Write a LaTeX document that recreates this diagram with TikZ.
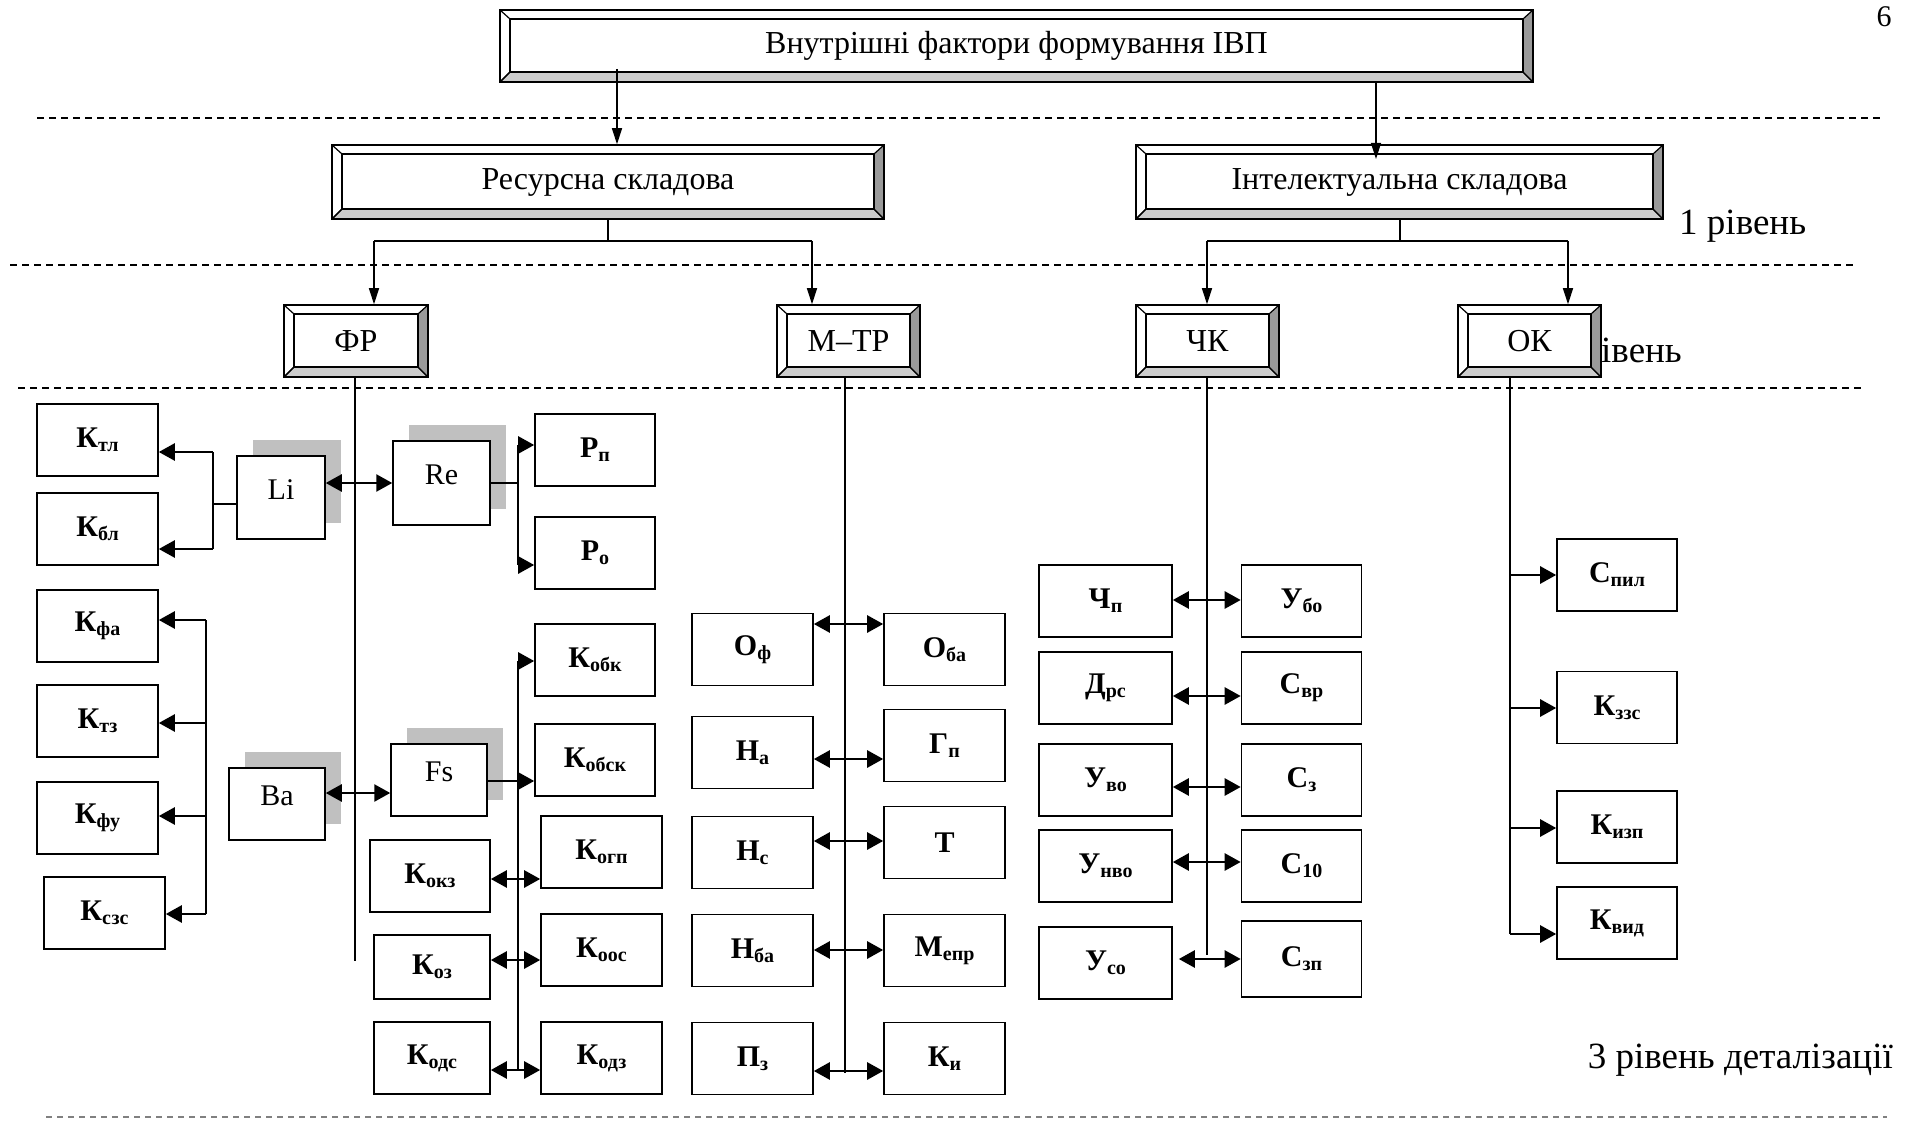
\documentclass[tikz,border=0pt]{standalone}
\usepackage{fontspec}
\setmainfont{Liberation Serif}
\usetikzlibrary{shapes,arrows.meta,shadows}

\definecolor{bevellow}{HTML}{CCCCCC}
\definecolor{bevelside}{HTML}{9A9A9A}
\definecolor{shadegray}{HTML}{C0C0C0}
\definecolor{sepgray}{HTML}{808080}

\newcommand{\lw}[1]{\raisebox{-4pt}{\fontsize{20}{20}\selectfont #1}}

\tikzstyle{bevel} = [rectangle, draw, line width=1.5pt, fill=white, inner sep=0pt, minimum height=72pt,
    font=\fontsize{32}{36}\selectfont,
    path picture={
      \coordinate (bsw) at (path picture bounding box.south west);
      \coordinate (bse) at (path picture bounding box.south east);
      \coordinate (bne) at (path picture bounding box.north east);
      \coordinate (bnw) at (path picture bounding box.north west);
      \filldraw[line width=1.2pt, fill=bevellow] (bsw) -- (bse) -- ([shift={(-10pt,10pt)}]bse) -- ([shift={(10pt,10pt)}]bsw) -- cycle;
      \filldraw[line width=1.2pt, fill=bevelside] (bse) -- (bne) -- ([shift={(-10pt,-9pt)}]bne) -- ([shift={(-10pt,10pt)}]bse) -- cycle;
      \draw[line width=1.2pt] ([shift={(10pt,10pt)}]bsw) rectangle ([shift={(-10pt,-9pt)}]bne);
      \draw[line width=1.2pt] (bnw) -- ([shift={(10pt,-9pt)}]bnw);
      \draw[line width=1.2pt] (bsw) -- ([shift={(10pt,10pt)}]bsw);
    }]
\tikzstyle{item} = [rectangle, draw, line width=1.6pt, fill=white, inner sep=0pt,
    minimum width=121pt, minimum height=72pt, font=\fontsize{30}{34}\selectfont\bfseries]
\tikzstyle{shaded} = [rectangle, draw, line width=1.5pt, fill=white, inner sep=0pt, text depth=16pt,
    minimum width=96pt, minimum height=72pt, font=\fontsize{30}{34}\selectfont,
    general shadow={fill=shadegray, shadow xshift=16pt, shadow yshift=16pt}]
\tikzstyle{line} = [draw, line width=1.3pt, -{Triangle[length=16pt,width=10pt]}]
\tikzstyle{link} = [draw, line width=2.6pt, -{Triangle[length=16pt,width=17pt]}]
\tikzstyle{dlink} = [draw, line width=2.6pt, {Triangle[length=16pt,width=17pt]}-{Triangle[length=16pt,width=17pt]}]
\tikzstyle{bus} = [draw, line width=1.6pt]
\tikzstyle{level} = [font=\fontsize{37}{40}\selectfont, inner sep=0pt]
\tikzstyle{separator} = [draw, line width=1.6pt, dash pattern=on 7pt off 5pt]

\begin{document}
\begin{tikzpicture}[x=1pt, y=-1pt]
\useasboundingbox (0,0) rectangle (1915,1123);

% levels
\path [separator] (37,118) -- (1881,118);
\path [separator] (10,265) -- (1854,265);
\path [separator] (18,388) -- (1862,388);
\path [separator, sepgray, line width=1.2pt, dash pattern=on 6pt off 5pt] (46,1117) -- (1887,1117);

\node [level, anchor=west] (lvl1) at (1679,226) {1 рівень};
\node [level, anchor=east] (lvl2) at (1682,354) {2 рівень};
\node [level, anchor=east] (lvl3) at (1893,1060) {3 рівень деталізації};
\node [font=\fontsize{30}{32}\selectfont, inner sep=0pt] (page) at (1884,17) {6};

% top
\node [bevel, minimum width=1033pt] (ivp) at (1016.5,46) {Внутрішні фактори формування ІВП};
\node [bevel, minimum width=552pt, minimum height=74pt] (res) at (608,182) {Ресурсна складова};
\node [bevel, minimum width=527pt, minimum height=74pt] (int) at (1399.5,182) {Інтелектуальна складова};

\node [bevel, minimum width=144pt] (fr) at (356,341) {ФР};
\node [bevel, minimum width=143pt] (mtr) at (848.5,341) {М–ТР};
\node [bevel, minimum width=143pt] (chk) at (1207.5,341) {ЧК};
\node [bevel, minimum width=143pt] (ok) at (1529.5,341) {ОК};

% ФР
\node [item] (ktl) at (97.5,440) {К\lw{тл}};
\node [item, below of=ktl, node distance=89pt] (kbl) {К\lw{бл}};
\node [item, below of=kbl, node distance=97pt] (kfa) {К\lw{фа}};
\node [item, below of=kfa, node distance=95pt] (ktz) {К\lw{тз}};
\node [item, below of=ktz, node distance=97pt] (kfu) {К\lw{фу}};
\node [item] (kszs) at (104.5,913) {К\lw{сзс}};

\node [shaded, minimum width=88pt, minimum height=83pt] (li) at (281,497.5) {Li};
\node [shaded, minimum width=97pt, minimum height=84pt] (re) at (441.5,483) {Re};
\node [shaded] (ba) at (277,804) {Ba};
\node [shaded] (fs) at (439,780) {Fs};

\node [item, minimum width=120pt] (rp) at (595,450) {Р\lw{п}};
\node [item, minimum width=120pt, below of=rp, node distance=103pt] (ro) {Р\lw{о}};
\node [item, minimum width=120pt] (kobk) at (595,660) {К\lw{обк}};
\node [item, minimum width=120pt, below of=kobk, node distance=100pt] (kobsk) {К\lw{обск}};
\node [item] (kogp) at (601.5,852) {К\lw{огп}};
\node [item, below of=kogp, node distance=98pt] (koos) {К\lw{оос}};
\node [item, below of=koos, node distance=108pt] (kodz) {К\lw{одз}};
\node [item, minimum width=120pt] (kokz) at (430,876) {К\lw{окз}};
\node [item, minimum width=116pt, minimum height=64pt] (koz) at (432,967) {К\lw{оз}};
\node [item, minimum width=116pt] (kods) at (432,1058) {К\lw{одс}};

% М–ТР
\node [item] (of) at (752.5,649.5) {О\lw{ф}};
\node [item, below of=of, node distance=103pt] (na) {Н\lw{а}};
\node [item, below of=na, node distance=100pt] (ns) {Н\lw{с}};
\node [item, below of=ns, node distance=98pt] (nba) {Н\lw{ба}};
\node [item, below of=nba, node distance=108pt] (pz) {П\lw{з}};
\node [item, right of=of, node distance=192pt] (oba) {О\lw{ба}};
\node [item] (gp) at (944.5,745.5) {Г\lw{п}};
\node [item] (t) at (944.5,842.5) {Т};
\node [item, right of=nba, node distance=192pt] (mepr) {М\lw{епр}};
\node [item, right of=pz, node distance=192pt] (ki) {К\lw{и}};

% ЧК
\node [item, minimum width=133pt] (chp) at (1105.5,601) {Ч\lw{п}};
\node [item, minimum width=133pt, below of=chp, node distance=87pt] (drs) {Д\lw{рс}};
\node [item, minimum width=133pt, below of=drs, node distance=92pt] (uvo) {У\lw{во}};
\node [item, minimum width=133pt, below of=uvo, node distance=86pt] (unvo) {У\lw{нво}};
\node [item, minimum width=133pt, below of=unvo, node distance=97pt] (uso) {У\lw{со}};
\node [item, minimum width=120pt, right of=chp, node distance=196pt] (ubo) {У\lw{бо}};
\node [item, minimum width=120pt, right of=drs, node distance=196pt] (svr) {С\lw{вр}};
\node [item, minimum width=120pt, right of=uvo, node distance=196pt] (sz) {С\lw{з}};
\node [item, minimum width=120pt, right of=unvo, node distance=196pt] (s10) {С\lw{10}};
\node [item, minimum width=120pt, minimum height=76pt] (szp) at (1301.5,959) {С\lw{зп}};

% ОК
\node [item, minimum width=120pt] (spil) at (1617,575) {С\lw{пил}};
\node [item, minimum width=120pt] (kzzs) at (1617,707.5) {К\lw{ззс}};
\node [item, minimum width=120pt] (kizp) at (1617,827) {К\lw{изп}};
\node [item, minimum width=120pt] (kvid) at (1617,923) {К\lw{вид}};

% forks
\coordinate (a1) at (617,69);
\coordinate (a2) at (1376,159);
\coordinate (rsl) at (374,241);
\coordinate (rsr) at (812,241);
\coordinate (isl) at (1207,241);
\coordinate (isr) at (1568,241);
\coordinate (frend) at (355,961);
\coordinate (mtrend) at (845,1073);
\coordinate (chkend) at (1207,955);
\coordinate (okend) at (1510,934);
\coordinate (lif1) at (213,452);
\coordinate (lif2) at (213,549);
\coordinate (lifm) at (213,504);
\coordinate (ref1) at (518,445);
\coordinate (ref2) at (518,565);
\coordinate (fab1) at (206,620);
\coordinate (fab2) at (206,914);
\coordinate (rb1) at (518,661);
\coordinate (rb2) at (518,1070);

% arrows
\path [line] (a1) -- (a1 |- res.north);
\path [line] (ivp.south -| a2) -- (a2);

\path [bus] (res.south) -- (res.south |- rsl);
\path [bus] (rsl) -- (rsr);
\path [line] (rsl) -- (rsl |- fr.north);
\path [line] (rsr) -- (rsr |- mtr.north);

\path [bus] (isl -| 1400,0) -- (int.south -| 1400,0);
\path [bus] (isl) -- (isr);
\path [line] (isl) -- (isl |- chk.north);
\path [line] (isr) -- (isr |- ok.north);

\path [bus] (frend |- fr.south) -- (frend);
\path [bus] (mtrend |- mtr.south) -- (mtrend);
\path [bus] (chkend |- chk.south) -- (chkend);
\path [bus] (okend |- ok.south) -- (okend);

\path [bus] (li.west |- lifm) -- (lifm);
\path [bus] (lif1) -- (lif2);
\path [link] (lif1) -- (ktl.east |- lif1);
\path [link] (lif2) -- (kbl.east |- lif2);

\path [dlink] (li.east |- re.west) -- (re.west);

\path [bus] (re.east) -- (re.east -| ref1);
\path [bus] (ref1) -- (ref2);
\path [link] (ref1) -- (rp.west |- ref1);
\path [link] (ref2) -- (ro.west |- ref2);

\path [bus] (fab1) -- (fab2);
\path [link] (fab1) -- (kfa.east |- fab1);
\path [link] (fab1 |- 0,723) -- (ktz.east |- 0,723);
\path [link] (fab1 |- 0,816) -- (kfu.east |- 0,816);
\path [link] (fab2) -- (kszs.east |- fab2);

\path [dlink] (ba.east |- 0,793) -- (fs.west |- 0,793);
\path [link] (fs.east |- 0,781) -- (kobsk.west |- 0,781);

\path [bus] (rb1) -- (rb2);
\path [link] (rb1) -- (kobk.west |- rb1);
\path [dlink] (kokz.east |- 0,879) -- (kogp.west |- 0,879);
\path [dlink] (koz.east |- 0,960) -- (koos.west |- 0,960);
\path [dlink] (kods.east |- rb2) -- (kodz.west |- rb2);

\path [dlink] (of.east |- 0,624) -- (oba.west |- 0,624);
\path [dlink] (na.east |- 0,759) -- (gp.west |- 0,759);
\path [dlink] (ns.east |- 0,841) -- (t.west |- 0,841);
\path [dlink] (nba.east |- 0,950) -- (mepr.west |- 0,950);
\path [dlink] (pz.east |- 0,1071) -- (ki.west |- 0,1071);

\path [dlink] (chp.east |- 0,600) -- (ubo.west |- 0,600);
\path [dlink] (drs.east |- 0,696) -- (svr.west |- 0,696);
\path [dlink] (uvo.east |- 0,787) -- (sz.west |- 0,787);
\path [dlink] (unvo.east |- 0,862) -- (s10.west |- 0,862);
\path [dlink] ([xshift=6pt]uso.east |- 0,959) -- (szp.west |- 0,959);

\path [link] (okend |- 0,575) -- (spil.west |- 0,575);
\path [link] (okend |- 0,708) -- (kzzs.west |- 0,708);
\path [link] (okend |- 0,828) -- (kizp.west |- 0,828);
\path [link] (okend) -- (kvid.west |- okend);

\end{tikzpicture}
\end{document}
